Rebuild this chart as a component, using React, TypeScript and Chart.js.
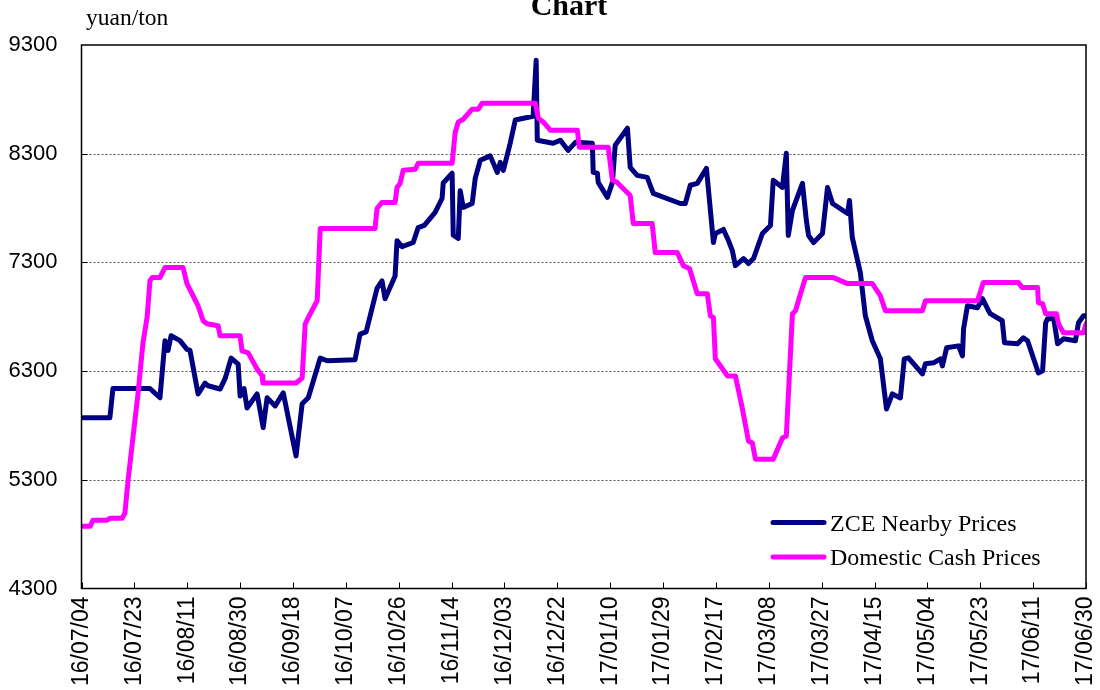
import React, { useEffect, useRef } from "react";
import { Chart, registerables } from "chart.js";

Chart.register(...registerables);

// Day offsets from 2016/07/04
const START_Y = 2016;
const START_M = 6; // July (0-based)
const START_D = 4;
const TOTAL_DAYS = 361;
const TICK_STEP_DAYS = 19;

const Y_MIN = 4300;
const Y_MAX = 9300;
const Y_STEP = 1000;

const TITLE = "Chart";
const UNIT_LABEL = "yuan/ton";
const SERIES_NAMES = ["ZCE Nearby Prices", "Domestic Cash Prices"];
const SERIES_COLORS = ["#000080", "#FF00FF"];

const zceDays = [
  0, 10.2, 11.3, 24.6, 28.2, 30, 31.1, 32.2, 35.4, 37.9,
  39, 41.9, 44.4, 45.5, 49.8, 51.6, 53.8, 56.3, 57, 58.4,
  59.5, 63.1, 65.3, 66.7, 69.6, 72.5, 77.1, 79.3, 81.5, 85.8,
  88.3, 98.3, 100.1, 102.3, 106.2, 108, 109.1, 112.7, 113.4, 115.2,
  119.2, 121, 123.2, 127.1, 129.6, 130, 133.2, 133.6, 135.4, 136.1,
  137.2, 140.4, 141.5, 143.3, 146.9, 149.4, 150.5, 151.6, 154.1, 155.9,
  162.3, 163.4, 163.8, 169.5, 172.1, 174.9, 177.5, 183.6, 183.9, 185.4,
  185.7, 189, 190.8, 191.8, 196.2, 197.2, 199.7, 203.3, 205.5, 215.2,
  217, 218.8, 221.3, 224.6, 226.7, 227.1, 227.8, 230.7, 232.5, 233.9,
  235, 237.9, 239.7, 241.5, 244.7, 247.6, 248.6, 251.9, 253.3, 254,
  255.5, 259.1, 260.5, 261.3, 263.1, 266.3, 268.1, 269.9, 275.3, 276,
  277, 279.9, 281.7, 284.2, 287.1, 289.3, 291.4, 294.3, 295.7, 297.2,
  302.2, 303.3, 306.2, 308.7, 309.4, 310.9, 315.2, 316.6, 317, 318.4,
  322, 323.8, 325.6, 326.6, 330.9, 331.7, 336.4, 338.5, 340, 343.9,
  345.4, 346.5, 347.2, 349.4, 350.8, 352.9, 357.2, 358.3, 360.1, 361,
];
const zceValues = [
  5870, 5870, 6140, 6140, 6055, 6580, 6490, 6625, 6580, 6500,
  6490, 6090, 6190, 6165, 6135, 6230, 6420, 6365, 6070, 6140,
  5960, 6090, 5780, 6055, 5980, 6100, 5520, 6000, 6055, 6420,
  6395, 6405, 6640, 6660, 7060, 7130, 6966, 7175, 7500, 7445,
  7483, 7620, 7640, 7760, 7890, 8030, 8120, 7550, 7520, 7960,
  7806, 7842, 8073, 8240, 8280, 8128, 8220, 8147, 8400, 8610,
  8645, 9160, 8424, 8396, 8424, 8330, 8405, 8396, 8128, 8120,
  8036, 7898, 8036, 8378, 8534, 8175, 8101, 8082, 7935, 7842,
  7842, 8010, 8027, 8165, 7593, 7483, 7566, 7603, 7501, 7409,
  7270, 7335, 7289, 7335, 7566, 7640, 8055, 7990, 8304, 7547,
  7778, 8027, 7686, 7547, 7483, 7566, 7990, 7842, 7750, 7870,
  7530, 7206, 6809, 6579, 6413, 5951, 6090, 6053, 6413, 6422,
  6274, 6367, 6376, 6413, 6348, 6514, 6532, 6440, 6689, 6901,
  6883, 6966, 6874, 6828, 6763, 6560, 6551, 6606, 6579, 6283,
  6302, 6745, 6782, 6782, 6551, 6597, 6579, 6745, 6809, 6809,
];

const cashDays = [
  0, 3.1, 4.1, 9.2, 10.2, 14.6, 15.6, 16.7, 18.5, 20.3,
  22.1, 23.6, 24.6, 25.4, 28.2, 30, 36.5, 37.9, 39.7, 41.9,
  43.7, 45.1, 49.1, 49.8, 57, 57.7, 59.9, 63.1, 64.9, 65.2,
  77.1, 79.3, 80.4, 81.5, 84.7, 85.8, 105.5, 106.2, 108, 112.7,
  113.4, 114.5, 115.6, 119.9, 121, 133.2, 134.3, 135.4, 137.2, 140.4,
  142.6, 144, 163.1, 164.2, 166, 168.5, 178.2, 178.9, 189.3, 190.8,
  192.5, 197.2, 198.3, 205.1, 206.2, 214.1, 216.3, 218.5, 221.3, 224.9,
  226, 227.1, 227.8, 231.4, 232.1, 235, 237.5, 239.7, 241.1, 242.2,
  248.6, 251.9, 253.3, 255.5, 256.6, 258.4, 260.2, 270.2, 275.3, 284.2,
  287.1, 288.9, 302.2, 303.3, 322, 324.1, 336.7, 338.1, 343.6, 343.9,
  345.4, 346.5, 350.4, 351.1, 352.9, 360.1, 361,
];
const cashValues = [
  4872, 4872, 4927, 4927, 4946, 4946, 4992, 5287, 5690, 6090,
  6560, 6800, 7132, 7160, 7160, 7252, 7252, 7105, 7012, 6901,
  6763, 6735, 6717, 6625, 6625, 6486, 6468, 6320, 6256, 6191,
  6191, 6237, 6735, 6791, 6948, 7612, 7612, 7796, 7852, 7852,
  7990, 8027, 8147, 8156, 8211, 8211, 8497, 8590, 8617, 8710,
  8710, 8765, 8765, 8627, 8590, 8516, 8516, 8359, 8359, 8055,
  8036, 7916, 7658, 7658, 7390, 7390, 7270, 7243, 7012, 7012,
  6809, 6791, 6413, 6283, 6256, 6256, 5956, 5656, 5638, 5490,
  5490, 5684, 5702, 6828, 6855, 7012, 7160, 7160, 7105, 7105,
  6994, 6855, 6855, 6948, 6948, 7114, 7114, 7068, 7068, 6929,
  6920, 6828, 6828, 6735, 6652, 6652, 6735,
];

const SANS = "'Liberation Sans', Arial, sans-serif";
const SERIF = "'Liberation Serif', 'Times New Roman', serif";

function dayLabel(d: number): string {
  const dt = new Date(START_Y, START_M, START_D + Math.round(d));
  const yy = String(dt.getFullYear() % 100).padStart(2, "0");
  const mm = String(dt.getMonth() + 1).padStart(2, "0");
  const dd = String(dt.getDate()).padStart(2, "0");
  return `${yy}/${mm}/${dd}`;
}

const decorPlugin = {
  id: "decor",
  beforeDatasetsDraw(chart: any) {
    const { ctx, chartArea, scales } = chart;
    const y = scales.y;
    ctx.save();
    ctx.strokeStyle = "#555555";
    ctx.lineWidth = 1;
    ctx.setLineDash([2, 2]);
    for (let v = Y_MIN + Y_STEP; v < Y_MAX; v += Y_STEP) {
      const py = Math.round(y.getPixelForValue(v)) + 0.5;
      ctx.beginPath();
      ctx.moveTo(chartArea.left, py);
      ctx.lineTo(chartArea.right, py);
      ctx.stroke();
    }
    ctx.restore();
  },
  afterDatasetsDraw(chart: any) {
    const { ctx, chartArea, scales } = chart;
    const x = scales.x;
    const y = scales.y;
    ctx.save();
    // border
    ctx.strokeStyle = "#000000";
    ctx.lineWidth = 1.5;
    ctx.setLineDash([]);
    ctx.strokeRect(chartArea.left, chartArea.top, chartArea.right - chartArea.left, chartArea.bottom - chartArea.top);
    // inward ticks
    ctx.lineWidth = 1;
    for (let d = 0; d <= TOTAL_DAYS; d += TICK_STEP_DAYS) {
      const px = Math.round(x.getPixelForValue(d)) + 0.5;
      ctx.beginPath();
      ctx.moveTo(px, chartArea.bottom);
      ctx.lineTo(px, chartArea.bottom - 6);
      ctx.stroke();
    }
    for (let v = Y_MIN + Y_STEP; v < Y_MAX; v += Y_STEP) {
      const py = Math.round(y.getPixelForValue(v)) + 0.5;
      ctx.beginPath();
      ctx.moveTo(chartArea.left, py);
      ctx.lineTo(chartArea.left + 6, py);
      ctx.stroke();
    }
    // title (partly cut at top)
    ctx.fillStyle = "#000000";
    ctx.font = `bold 30px ${SERIF}`;
    ctx.textAlign = "center";
    ctx.textBaseline = "alphabetic";
    ctx.fillText(TITLE, 569, 15);
    // unit
    ctx.font = `23.5px ${SERIF}`;
    ctx.textAlign = "left";
    ctx.fillText(UNIT_LABEL, 86, 25);
    // legend
    const rows = [522.5, 557];
    const bases = [530.5, 565];
    for (let i = 0; i < 2; i++) {
      ctx.strokeStyle = SERIES_COLORS[i];
      ctx.lineWidth = 5;
      ctx.lineCap = "round";
      ctx.beginPath();
      ctx.moveTo(773, rows[i]);
      ctx.lineTo(824, rows[i]);
      ctx.stroke();
      ctx.fillStyle = "#000000";
      ctx.font = `24px ${SERIF}`;
      ctx.fillText(SERIES_NAMES[i], 830, bases[i]);
    }
    ctx.restore();
  },
};

export default function App() {
  const ref = useRef<HTMLCanvasElement | null>(null);
  useEffect(() => {
    if (!ref.current) return;
    const zceData = zceDays.map((d, i) => ({ x: d, y: zceValues[i] }));
    const cashData = cashDays.map((d, i) => ({ x: d, y: cashValues[i] }));
    const chart = new Chart(ref.current, {
      type: "line",
      data: {
        datasets: [
          {
            label: SERIES_NAMES[1],
            data: cashData,
            borderColor: SERIES_COLORS[1],
            borderWidth: 5,
            pointRadius: 0,
            tension: 0,
            borderJoinStyle: "round",
            borderCapStyle: "round",
            fill: false,
          },
          {
            label: SERIES_NAMES[0],
            data: zceData,
            borderColor: SERIES_COLORS[0],
            borderWidth: 5,
            pointRadius: 0,
            tension: 0,
            borderJoinStyle: "round",
            borderCapStyle: "round",
            fill: false,
          },
        ],
      },
      options: {
        animation: false,
        responsive: false,
        maintainAspectRatio: false,
        layout: { padding: { left: 0, top: 45, right: 14, bottom: 0 } },
        plugins: {
          legend: { display: false },
          title: { display: false },
          tooltip: { enabled: false },
        },
        scales: {
          x: {
            type: "linear",
            min: 0,
            max: TOTAL_DAYS,
            grid: { display: false, drawTicks: false },
            border: { display: false },
            afterBuildTicks: (scale: any) => {
              const t = [];
              for (let d = 0; d <= TOTAL_DAYS; d += TICK_STEP_DAYS) t.push({ value: d });
              scale.ticks = t;
            },
            afterFit: (scale: any) => {
              scale.height = 101.5;
              scale.paddingLeft = 0;
              scale.paddingRight = 0;
            },
            ticks: {
              autoSkip: false,
              maxRotation: 90,
              minRotation: 90,
              padding: 8,
              color: "#000000",
              font: { family: SANS, size: 23 },
              callback: (v: any) => dayLabel(Number(v)),
            },
          },
          y: {
            type: "linear",
            min: Y_MIN,
            max: Y_MAX,
            grid: { display: false, drawTicks: false },
            border: { display: false },
            afterFit: (scale: any) => {
              scale.width = 81.5;
              scale.paddingTop = 0;
              scale.paddingBottom = 0;
            },
            ticks: {
              stepSize: Y_STEP,
              padding: 24,
              color: "#000000",
              font: { family: SANS, size: 22 },
              callback: (v: any) => String(v),
            },
          },
        },
      },
      plugins: [decorPlugin],
    });
    return () => chart.destroy();
  }, []);
  return (
    <div style={{ position: "absolute", left: 0, top: 0, width: 1100, height: 690, background: "#ffffff" }}>
      <canvas ref={ref} width={1100} height={690} style={{ display: "block" }} />
    </div>
  );
}
